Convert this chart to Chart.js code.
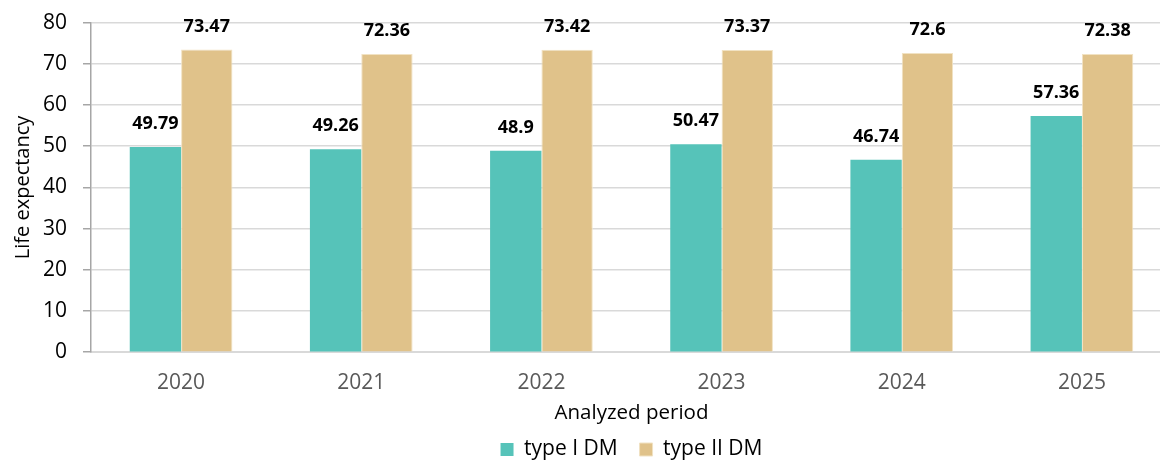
<!DOCTYPE html>
<html>
<head>
<meta charset="utf-8">
<script src="https://cdn.jsdelivr.net/npm/chart.js@4/dist/chart.umd.min.js"></script>
<style>
  html, body { margin: 0; padding: 0; background: #fff; overflow: hidden; }
  #wrap { width: 1172px; height: 476px; margin-top: -6px; position: relative; }
</style>
</head>
<body>
<div id="wrap"><canvas id="chart"></canvas></div>
<script>
const years = ['2020', '2021', '2022', '2023', '2024', '2025'];
const typeOne = [49.79, 49.26, 48.9, 50.47, 46.74, 57.36];
const typeTwo = [73.47, 72.36, 73.42, 73.37, 72.6, 72.38];
const yTicks = [0, 10, 20, 30, 40, 50, 60, 70, 80];

const fontFamily = '"Open Sans", "Noto Sans", sans-serif';

// draws the bold value above each bar
const valueLabels = {
  id: 'valueLabels',
  afterDatasetsDraw(chart) {
    const ctx = chart.ctx;
    ctx.save();
    ctx.font = 'bold 18px ' + fontFamily;
    ctx.fillStyle = '#000';
    ctx.textAlign = 'center';
    ctx.textBaseline = 'middle';
    chart.data.datasets.forEach((ds, i) => {
      chart.getDatasetMeta(i).data.forEach((bar, j) => {
        ctx.fillText(String(ds.data[j]), bar.x, bar.y - 23);
      });
    });
    ctx.restore();
  }
};

new Chart(document.getElementById('chart').getContext('2d'), {
  type: 'bar',
  data: {
    labels: years,
    datasets: [
      {
        label: 'type I DM',
        data: typeOne,
        backgroundColor: '#56c3b9',
        borderWidth: 0,
        categoryPercentage: 0.57,
        barPercentage: 1.0
      },
      {
        label: 'type II DM',
        data: typeTwo,
        backgroundColor: '#e0c28a',
        borderColor: '#f1e2c3',
        borderWidth: 1,
        categoryPercentage: 0.57,
        barPercentage: 1.0
      }
    ]
  },
  options: {
    responsive: true,
    maintainAspectRatio: false,
    animation: false,
    layout: { padding: { top: 10, left: 11, right: 0, bottom: 0 } },
    scales: {
      x: {
        grid: { display: false },
        border: { color: '#d9d9d9', width: 2 },
        ticks: { color: '#595959', font: { family: fontFamily, size: 21 }, padding: 10 },
        title: {
          display: true,
          text: 'Analyzed period',
          color: '#000',
          font: { family: fontFamily, size: 20.5 },
          padding: { top: -5, bottom: -8 }
        }
      },
      y: {
        min: 0,
        max: 80,
        afterBuildTicks(axis) {
          axis.ticks = yTicks.map(v => ({ value: v }));
        },
        grid: { color: '#d9d9d9', lineWidth: 1.5, tickLength: 8, tickColor: '#a6a6a6' },
        border: { color: '#a6a6a6', width: 1.5 },
        ticks: { color: '#000', font: { family: fontFamily, size: 21 }, padding: 16 },
        title: {
          display: true,
          text: 'Life expectancy',
          color: '#000',
          font: { family: fontFamily, size: 20 },
          padding: { top: 0, bottom: -8 }
        }
      }
    },
    plugins: {
      legend: {
        position: 'bottom',
        fullSize: false,
        labels: {
          color: '#000',
          font: { family: fontFamily, size: 21 },
          boxWidth: 13,
          boxHeight: 13,
          padding: 22
        }
      },
      tooltip: { enabled: false }
    }
  },
  plugins: [valueLabels]
});
</script>
</body>
</html>
